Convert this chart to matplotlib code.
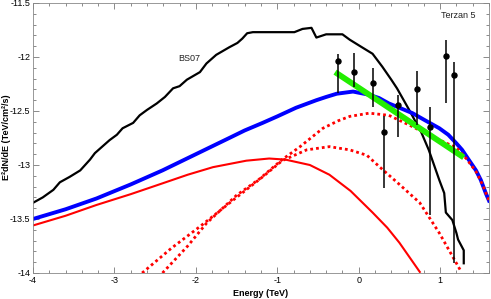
import numpy as np
import matplotlib
matplotlib.use("Agg")
import matplotlib.pyplot as plt
from matplotlib.ticker import MultipleLocator, FuncFormatter

plt.rcParams['font.family'] = ['Liberation Sans', 'DejaVu Sans']
plt.rcParams['axes.unicode_minus'] = False

# BS07 model (black)
bs07_x = [-4.0, -3.88, -3.75, -3.67, -3.55, -3.42, -3.30, -3.24, -3.18, -3.06, -2.97, -2.90,
          -2.77, -2.69, -2.60, -2.48, -2.38, -2.28, -2.20, -2.11, -1.95, -1.87, -1.75, -1.59,
          -1.49, -1.43, -1.37, -1.30, -0.79, -0.69, -0.58, -0.52, -0.40, -0.20, -0.11, 0.04,
          0.17, 0.29, 0.40, 0.47, 0.62, 0.77, 0.86, 0.99, 1.05, 1.07, 1.15, 1.20, 1.22, 1.29, 1.29]
bs07_y = [-13.35, -13.30, -13.23, -13.16, -13.11, -13.05, -12.95, -12.89, -12.85, -12.77, -12.72, -12.66,
          -12.61, -12.54, -12.49, -12.43, -12.37, -12.29, -12.27, -12.21, -12.14, -12.06, -11.98, -11.91,
          -11.87, -11.83, -11.78, -11.77, -11.77, -11.74, -11.73, -11.82, -11.79, -11.79, -11.84, -11.91,
          -11.97, -12.09, -12.21, -12.29, -12.49, -12.70, -12.86, -13.14, -13.26, -13.44, -13.51, -13.63, -13.69, -13.79, -13.91]

# total model (blue)
total_x = [-4.0, -3.6, -3.22, -2.8, -2.41, -2.0, -1.59, -1.4, -1.18, -1.0, -0.77, -0.52, -0.4,
           -0.27, -0.07, 0.13, 0.25, 0.37, 0.5, 0.66, 0.8, 0.99, 1.1, 1.20, 1.27, 1.35, 1.44,
           1.5, 1.56, 1.60]
total_y = [-13.50, -13.41, -13.31, -13.18, -13.05, -12.90, -12.75, -12.68, -12.61, -12.55, -12.47,
           -12.40, -12.37, -12.34, -12.32, -12.35, -12.38, -12.43, -12.47, -12.52, -12.58, -12.66,
           -12.72, -12.80, -12.86, -12.95, -13.05, -13.14, -13.26, -13.33]

# red solid component
ic_x = [-4.0, -3.6, -3.22, -2.8, -2.41, -2.1, -1.79, -1.38, -1.10, -0.90, -0.60, -0.36, -0.10,
        0.17, 0.35, 0.50, 0.75]
ic_y = [-13.56, -13.47, -13.37, -13.27, -13.17, -13.09, -13.02, -12.96, -12.94, -12.95, -13.00,
        -13.09, -13.24, -13.44, -13.58, -13.72, -13.99]

# red dotted components
dotA_x = [-2.41, -2.10, -1.87, -1.50, -1.22, -0.94, -0.72, -0.44, -0.25, -0.11, 0.13, 0.37, 0.62,
          0.91, 1.20, 1.32, 1.44, 1.52, 1.60]
dotA_y = [-14.0, -13.75, -13.54, -13.28, -13.13, -12.95, -12.83, -12.66, -12.59, -12.55, -12.52,
          -12.54, -12.63, -12.74, -12.84, -12.94, -13.06, -13.18, -13.33]
dotB_x = [-2.66, -2.30, -1.95, -1.50, -1.18, -0.94, -0.64, -0.36, -0.11, 0.10, 0.26, 0.50,
          0.75, 0.99, 1.26]
dotB_y = [-14.0, -13.77, -13.57, -13.30, -13.11, -12.96, -12.86, -12.83, -12.86, -12.91, -13.02,
          -13.18, -13.35, -13.63, -13.99]

# power-law fit (green)
fit_x = [-0.29, 1.29]
fit_y = [-12.14, -12.93]

# data points
pt_x = [-0.26, -0.06, 0.18, 0.31, 0.48, 0.71, 0.88, 1.07, 1.17]
pt_y = [-12.04, -12.14, -12.24, -12.69, -12.44, -12.30, -12.65, -11.99, -12.17]
pt_hi = [-11.97, -11.96, -12.10, -12.55, -12.35, -12.13, -12.46, -11.84, -12.05]
pt_lo = [-12.33, -12.28, -12.46, -13.21, -12.74, -12.63, -13.46, -12.43, -13.91]

fig = plt.figure(figsize=(4.91, 2.99), dpi=100)
ax = fig.add_axes([33/491, 26/299, 456/491, 270/299])

ax.plot(bs07_x, bs07_y, color='black', lw=1.6)
ax.plot(ic_x, ic_y, color='#ff0000', lw=1.5)
ax.plot(dotB_x, dotB_y, color='#ff0000', lw=2.0, ls=(0, (1, 1.1)))
ax.plot(total_x, total_y, color='#0000ff', lw=2.8)
ax.plot(dotA_x, dotA_y, color='#ff0000', lw=2.0, ls=(0, (1, 1.1)))
ax.plot(fit_x, fit_y, color='#22ee00', lw=4.2, solid_capstyle='butt')

yerr = [np.array(pt_y) - np.array(pt_lo), np.array(pt_hi) - np.array(pt_y)]
ax.errorbar(pt_x, pt_y, yerr=yerr, fmt='o', color='black', ms=3.6, elinewidth=1.1, capsize=0)

ax.text(-2.08, -12.01, 'BS07', fontsize=6.5, ha='center', va='center', color='#222222')
ax.text(0.97, 0.955, 'Terzan 5', fontsize=6.5, ha='right', va='center', color='#222222',
        transform=ax.transAxes)

ax.set_xlim(-4, 1.6)
ax.set_ylim(-14, -11.5)
ax.xaxis.set_major_locator(MultipleLocator(1))
ax.xaxis.set_minor_locator(MultipleLocator(0.2))
ax.yaxis.set_major_locator(MultipleLocator(0.5))
ax.yaxis.set_minor_locator(MultipleLocator(0.1))
fmt = FuncFormatter(lambda v, p: '%g' % v)
ax.xaxis.set_major_formatter(fmt)
ax.yaxis.set_major_formatter(fmt)
ax.tick_params(which='both', direction='in', top=True, right=True, color='#777777',
               labelsize=6.5, pad=2)
ax.tick_params(which='major', length=4, width=0.6)
ax.tick_params(which='minor', length=2, width=0.6)
for s in ax.spines.values():
    s.set_color('#888888')
    s.set_linewidth(0.6)

fig.text(0.5 * (33 + 489) / 491, 1 - 293/299, 'Energy (TeV)', fontsize=6.5, fontweight='bold',
         ha='center', va='center')
fig.text(7/491, 1 - 137/299, 'E²dN/dE (TeV/cm²/s)', fontsize=6.5, fontweight='bold',
         ha='center', va='center', rotation=90)

fig.savefig('out.png', dpi=100)
